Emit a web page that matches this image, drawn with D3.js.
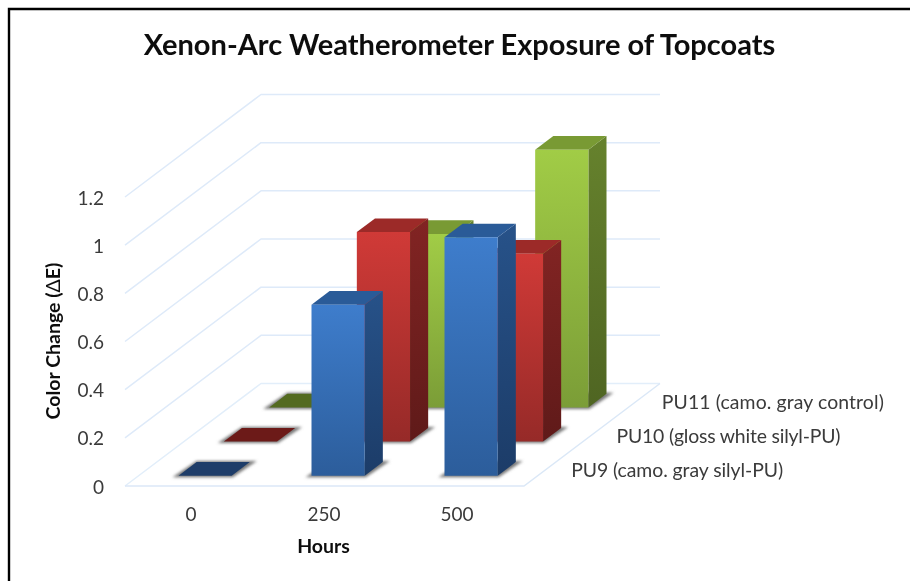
<!DOCTYPE html>
<html><head><meta charset="utf-8">
<script src="https://cdn.jsdelivr.net/npm/d3@7"></script>
<style>html,body{margin:0;padding:0;background:#fff}svg{display:block}</style>
</head><body><svg id="c" width="910" height="581"></svg>
<script>
const titleText = "Xenon-Arc Weatherometer Exposure of Topcoats";
const xTitle = "Hours";
const yTitleMain = "Color Change (";
const yTitleSymbol = "Δ";
const yTitleEnd = "E)";
const hours = ["0", "250", "500"];
const seriesNames = ["PU9 (camo. gray silyl-PU)", "PU10 (gloss white silyl-PU)", "PU11 (camo. gray control)"];
const pu9 = [0, 0.71, 0.99];
const pu10 = [0, 0.87, 0.78];
const pu11 = [0, 0.72, 1.07];
const yTicks = [0, 0.2, 0.4, 0.6, 0.8, 1, 1.2];
const allValues = [pu9, pu10, pu11];
const palettes = [
  {front:["#3e7dcc","#2c5d9b"], side:["#275289","#1c3c68"], top:"#2a5b98", flat:"#1e3d69"},
  {front:["#d03a37","#962a28"], side:["#822423","#5f1a19"], top:"#9c2a28", flat:"#6c1a18"},
  {front:["#a1cc46","#7b9d37"], side:["#66822d","#4f6522"], top:"#799a34", flat:"#546b20"}
];
const FONT = "Lato, Carlito, 'Open Sans', sans-serif";
const svg = d3.select("#c");
const defs = svg.append("defs");
const blur = defs.append("filter").attr("id","sh").attr("x","-30%").attr("y","-60%").attr("width","160%").attr("height","220%");
blur.append("feGaussianBlur").attr("stdDeviation",1.6);
const soft = defs.append("filter").attr("id","soft");
soft.append("feGaussianBlur").attr("stdDeviation",0.35);
palettes.forEach((p,i)=>{
  ["front","side"].forEach(k=>{
    const g = defs.append("linearGradient").attr("id",k+i).attr("x1",0).attr("y1",0).attr("x2",0).attr("y2",1);
    g.append("stop").attr("offset","0%").attr("stop-color",p[k][0]);
    g.append("stop").attr("offset","100%").attr("stop-color",p[k][1]);
  });
});

// frame (top + left only)
svg.append("path").attr("d","M9,581V9H910").attr("fill","none").attr("stroke","#000").attr("stroke-width",2.4);

// scales
const x = d3.scaleBand().domain(hours).range([125,524]).paddingInner(0.6).paddingOuter(0.3);
const z = d3.scaleBand().domain(seriesNames).range([0,1]).paddingInner(0.6).paddingOuter(0.3);
const y = d3.scaleLinear().domain([0,1.2]).range([486,197]);
const depthX = d3.scaleLinear().domain([0,1]).range([0,136]);
const depthY = d3.scaleLinear().domain([0,1]).range([0,-102.5]);
const P = (px,d,v)=>[px+depthX(d), y(v)+depthY(d)];
const poly = pts => "M"+pts.map(p=>p.join(",")).join("L")+"Z";

// walls
const grid = svg.append("g").attr("fill","none").attr("stroke-linejoin","round");
grid.selectAll("path").data(yTicks).join("path")
  .attr("d",v=>{const a=P(125,0,v),b=P(125,1,v),c=P(524,1,v);return "M"+[a,b,c].map(p=>p.join(",")).join("L");})
  .attr("stroke",v=>v===0?"#e2eefa":"#deeaf9").attr("stroke-width",1.5);
svg.append("path").attr("fill","none").attr("stroke","#dbe8f7").attr("stroke-width",1.5)
  .attr("d","M"+[P(125,0,0),P(524,0,0),P(524,1,0)].map(p=>p.join(",")).join("L"));

// bars, painter's order: back series first
const barsG = svg.append("g");
[2,1,0].forEach(si=>{
  const name = seriesNames[si], pal = palettes[si];
  const d0 = z(name), d1 = d0+z.bandwidth();
  hours.forEach((h,hi)=>{
    const v = allValues[si][hi];
    const x0 = x(h), x1 = x0+x.bandwidth();
    const g = barsG.append("g");
    const a=P(x0,d0,0), b=P(x1,d0,0), c=P(x1,d1,0), e=P(x0,d1,0);
    g.append("path").attr("filter","url(#sh)").attr("fill","#777")
      .attr("d",poly([[a[0]-6,a[1]+1.5],[b[0]+1,b[1]+1.5],[c[0]+7,c[1]-1],[e[0],e[1]-1]]));
    if(v===0){
      g.append("path").attr("fill",pal.flat).attr("d",poly([a,b,c,e]));
      return;
    }
    const ta=P(x0,d0,v), tb=P(x1,d0,v), tc=P(x1,d1,v), te=P(x0,d1,v);
    g.append("path").attr("fill",`url(#side${si})`).attr("d",poly([b,c,tc,tb]));
    g.append("path").attr("fill",pal.top).attr("d",poly([ta,tb,tc,te]));
    g.append("path").attr("fill",`url(#front${si})`).attr("d",poly([a,b,tb,ta]));
  });
});

const textG = svg.append("g").attr("filter","url(#soft)").attr("font-family",FONT);
// y axis
const yAxis = textG.append("g").attr("transform","translate(104,1)")
  .call(d3.axisLeft(y).tickValues(yTicks).tickSize(0).tickPadding(0).tickFormat(d3.format("~g")));
yAxis.select(".domain").remove();
yAxis.selectAll("text").attr("font-family",FONT).attr("font-size",19).attr("fill","#3a3a3a");
// x axis
const xAxis = textG.append("g").attr("transform","translate(-0.5,507.5)")
  .call(d3.axisBottom(x).tickSize(0).tickPadding(0));
xAxis.select(".domain").remove();
xAxis.selectAll("text").attr("font-family",FONT).attr("font-size",19).attr("fill","#3a3a3a");
// depth axis labels
const labelWidth = d3.scaleOrdinal().domain(seriesNames).range([212,224,222]);
textG.append("g").selectAll("text").data(seriesNames).join("text")
  .attr("x",d=>524+depthX(z(d)+z.bandwidth()/2)+24.5)
  .attr("y",d=>y(0)+depthY(z(d)+z.bandwidth()/2)+1.5)
  .attr("dy","0.35em").attr("font-size",19.4).attr("fill","#3a3a3a")
  .attr("textLength",d=>labelWidth(d)).attr("lengthAdjust","spacing").text(d=>d);
// titles
textG.append("text").attr("x",459.5).attr("y",55).attr("text-anchor","middle")
  .attr("font-size",29).attr("font-weight",700).attr("fill","#0d0d0d").text(titleText);
textG.append("text").attr("x",323.5).attr("y",553).attr("text-anchor","middle")
  .attr("font-size",19.5).attr("font-weight",700).attr("fill","#111").text(xTitle);
const yt = textG.append("text").attr("transform","translate(60,341) rotate(-90)").attr("text-anchor","middle")
  .attr("font-size",19.5).attr("font-weight",700).attr("fill","#111");
yt.append("tspan").text(yTitleMain);
yt.append("tspan").attr("font-weight",400).text(yTitleSymbol);
yt.append("tspan").text(yTitleEnd);
</script></body></html>
